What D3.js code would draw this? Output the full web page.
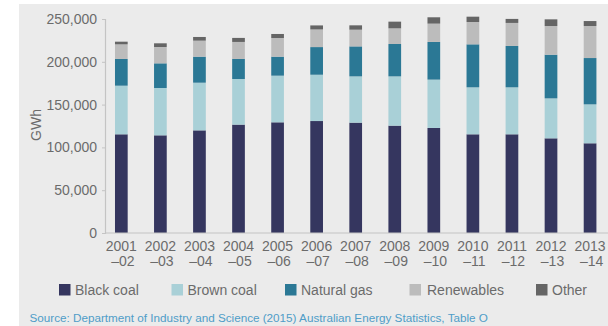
<!DOCTYPE html>
<html>
<head>
<meta charset="utf-8">
<script src="https://cdn.jsdelivr.net/npm/d3@7"></script>
<style>
  html, body { margin: 0; padding: 0; background: #ffffff; }
  svg { display: block; font-family: "Liberation Sans", Arial, sans-serif; }
</style>
</head>
<body>
<svg id="chart" width="608" height="326"></svg>
<script>
// Electricity generation by fuel, Australia (GWh)
const years = ["2001", "2002", "2003", "2004", "2005", "2006", "2007",
               "2008", "2009", "2010", "2011", "2012", "2013"];
const yearEnds = ["02", "03", "04", "05", "06", "07", "08",
                  "09", "10", "11", "12", "13", "14"];
const fuels = ["Black coal", "Brown coal", "Natural gas", "Renewables", "Other"];
const fuelColors = ["#35365f", "#a9d0d7", "#2b7895", "#bcbcbc", "#656565"];

const blackCoal  = [115300, 114100, 119900, 126600, 129300, 130800, 128900, 125400, 122700, 115300, 115300, 110600, 104800];
const brownCoal  = [ 56800,  55300,  55700,  53300,  54500,  54100,  54100,  57600,  56500,  54900,  54900,  46700,  45500];
const naturalGas = [ 31200,  28800,  30400,  23400,  22200,  32300,  35000,  37800,  44000,  50200,  48300,  51000,  54100];
const renewables = [ 17100,  19100,  18700,  19900,  21800,  20600,  19500,  18300,  21400,  26100,  26900,  33500,  37400];
const other      = [  3100,   4300,   4300,   4700,   4700,   4700,   5100,   7800,   7400,   6200,   4700,   7800,   5800];

const yTicks = [0, 50000, 100000, 150000, 200000, 250000];
const yLabel = "GWh";
const sourceText = "Source: Department of Industry and Science (2015) Australian Energy Statistics, Table O";

const seriesValues = [blackCoal, brownCoal, naturalGas, renewables, other];
const rows = years.map((y, i) => {
  const r = { year: y };
  fuels.forEach((f, k) => { r[f] = seriesValues[k][i]; });
  return r;
});

const svg = d3.select("#chart");
const textColor = "#6b6b6b";

// panel background
svg.append("rect")
  .attr("x", 19).attr("y", 4)
  .attr("width", 608 - 19).attr("height", 326 - 4)
  .attr("fill", "#ebebeb");

const x = d3.scaleBand()
  .domain(years)
  .range([101.8, 609.6])
  .paddingInner(0.675)
  .paddingOuter(0.3375);

const y = d3.scaleLinear()
  .domain([0, 250000])
  .range([233, 19]);

const stacked = d3.stack().keys(fuels)(rows);

// bars
const layers = svg.append("g")
  .selectAll("g")
  .data(stacked)
  .join("g")
  .attr("fill", (d, i) => fuelColors[i]);

layers.selectAll("rect")
  .data(d => d)
  .join("rect")
  .attr("x", d => x(d.data.year))
  .attr("width", x.bandwidth())
  .attr("y", d => y(d[1]))
  .attr("height", d => y(d[0]) - y(d[1]));

// y axis
const yAxis = d3.axisLeft(y)
  .tickValues(yTicks)
  .tickFormat(d3.format(","))
  .tickSize(3)
  .tickPadding(5);

const gy = svg.append("g")
  .attr("transform", "translate(105,0)")
  .call(yAxis);
gy.select(".domain").attr("stroke", "#c4c4c4").attr("stroke-width", 1.2);
gy.selectAll(".tick line").attr("stroke", "#c4c4c4");
gy.selectAll(".tick text")
  .attr("fill", textColor)
  .style("font-size", "14px")
  .style("font-family", "Liberation Sans, Arial, sans-serif");

// x axis baseline
const xAxis = d3.axisBottom(x).tickSize(0).tickFormat("");
const gx = svg.append("g")
  .attr("transform", "translate(0,233)")
  .call(xAxis);
gx.select(".domain")
  .attr("stroke", "#c4c4c4").attr("stroke-width", 1.2)
  .attr("d", "M105,0H608");

// two-line year labels
const labels = svg.append("g")
  .selectAll("text")
  .data(years)
  .join("text")
  .attr("x", d => x(d) + x.bandwidth() / 2)
  .attr("text-anchor", "middle")
  .attr("fill", textColor)
  .style("font-size", "14px");
labels.append("tspan")
  .attr("x", d => x(d) + x.bandwidth() / 2)
  .attr("y", 251)
  .text(d => d);
labels.append("tspan")
  .attr("x", (d, i) => x(d) + x.bandwidth() / 2 + 1.5)
  .attr("y", 265.5)
  .text((d, i) => "\u2013" + yearEnds[i]);

// y axis title
svg.append("text")
  .attr("transform", "translate(41,125) rotate(-90)")
  .attr("text-anchor", "middle")
  .attr("fill", textColor)
  .style("font-size", "14px")
  .text(yLabel);

// legend
const legendX = [59, 171.5, 285, 409.5, 536];
const legend = svg.append("g")
  .selectAll("g")
  .data(fuels)
  .join("g")
  .attr("transform", (d, i) => `translate(${legendX[i]},284)`);
legend.append("rect")
  .attr("width", 11.5).attr("height", 11.5)
  .attr("fill", (d, i) => fuelColors[i]);
legend.append("text")
  .attr("x", (d, i) => i === 3 ? 17.5 : 16)
  .attr("y", 10.5)
  .attr("fill", textColor)
  .style("font-size", "14px")
  .text(d => d);

// source note
svg.append("text")
  .attr("x", 29.5)
  .attr("y", 322)
  .attr("fill", "#4f9dc8")
  .style("font-size", "11.7px")
  .text(sourceText);
</script>
</body>
</html>
